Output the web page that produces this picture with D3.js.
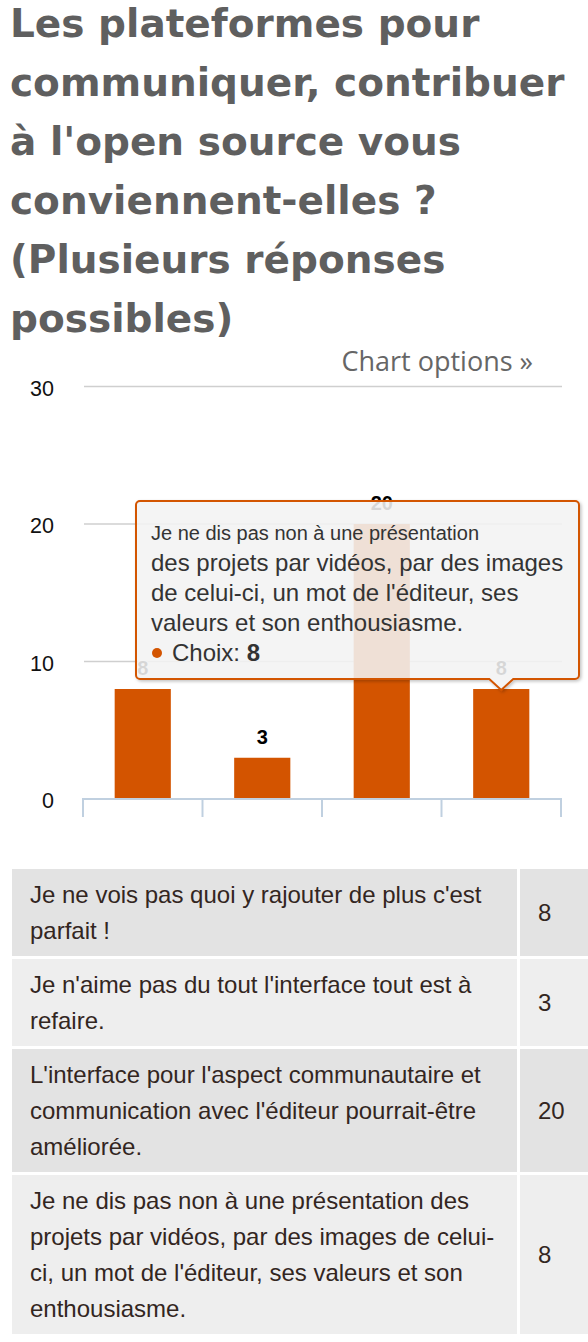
<!DOCTYPE html>
<html>
<head>
<meta charset="utf-8">
<script src="https://cdn.jsdelivr.net/npm/d3@7"></script>
<style>
  html, body { margin: 0; padding: 0; background: #fff; width: 588px; height: 1342px; overflow: hidden; }
  #title { position: absolute; left: 10px; top: -6px; width: 575px; margin: 0;
    font-family: "DejaVu Sans", sans-serif; font-weight: bold; font-size: 39px; line-height: 59px; color: #5f5f5f; }
  #chart { position: absolute; left: 0; top: 0; }
  #tbl { position: absolute; left: 9px; top: 866px; border-collapse: separate; border-spacing: 3px;
    table-layout: fixed; width: 588px;
    font-family: "Liberation Sans", Arial, sans-serif; font-size: 24px; line-height: 36px; color: #33261f; }
  #tbl td { padding: 8px 6px 7px 18px; vertical-align: middle; box-sizing: border-box; }
  #tbl col.lab { width: 505px; }
  #tbl col.val { width: 77px; }
  #tbl tr:nth-child(odd) td { background: #e3e3e3; }
  #tbl tr:nth-child(even) td { background: #eeeeee; }
</style>
</head>
<body>
<h1 id="title"></h1>
<svg id="chart" width="588" height="860"></svg>
<table id="tbl"><colgroup><col class="lab"><col class="val"></colgroup><tbody></tbody></table>
<script>
const titleText = "Les plateformes pour communiquer, contribuer à l'open source vous conviennent-elles ? (Plusieurs réponses possibles)";
const categories = [
  "Je ne vois pas quoi y rajouter de plus c'est parfait !",
  "Je n'aime pas du tout l'interface tout est à refaire.",
  "L'interface pour l'aspect communautaire et communication avec l'éditeur pourrait-être améliorée.",
  "Je ne dis pas non à une présentation des projets par vidéos, par des images de celui-ci, un mot de l'éditeur, ses valeurs et son enthousiasme."
];
const values = [8, 3, 20, 8];
const yTicks = [0, 10, 20, 30];
const seriesName = "Choix";
const hoveredIndex = 3;
const tooltipHeader = "Je ne dis pas non à une présentation";
const tooltipBody = ["des projets par vidéos, par des images", "de celui-ci, un mot de l'éditeur, ses", "valeurs et son enthousiasme."];
const optionsLabel = "Chart options »";

const orange = "#d35400";
d3.select("#title").text(titleText);

const svg = d3.select("#chart");
const font = "'Liberation Sans', Arial, sans-serif";

const x = d3.scaleBand().domain(categories).range([83, 561]).paddingInner(0).paddingOuter(0);
const y = d3.scaleLinear().domain([0, 30]).range([799, 386.5]);
const barFrac = 0.47;

svg.append("text").attr("x", 533).attr("y", 371).attr("text-anchor", "end")
  .attr("font-family", "'Open Sans', sans-serif").attr("font-size", 27).attr("fill", "#666")
  .text(optionsLabel);

// gridlines
svg.append("g").selectAll("line").data(yTicks.filter(d => d > 0)).join("line")
  .attr("x1", 84).attr("x2", 562).attr("y1", d => y(d)).attr("y2", d => y(d))
  .attr("stroke", "#cfcfcf").attr("stroke-width", 1.5);

// y labels
svg.append("g").selectAll("text").data(yTicks).join("text")
  .attr("x", 54).attr("y", d => y(d) + 9).attr("text-anchor", "end")
  .attr("font-family", font).attr("font-size", 21.5).attr("fill", "#111")
  .text(d => d);

// bars
svg.append("g").selectAll("rect").data(values).join("rect")
  .attr("x", (d, i) => x(categories[i]) + x.bandwidth() * (1 - barFrac) / 2)
  .attr("width", x.bandwidth() * barFrac)
  .attr("y", d => y(d)).attr("height", d => y(0) - y(d))
  .attr("fill", orange);

// data labels
svg.append("g").selectAll("text").data(values).join("text")
  .attr("x", (d, i) => x(categories[i]) + x.bandwidth() / 2)
  .attr("y", d => y(d) - 14).attr("text-anchor", "middle")
  .attr("font-family", font).attr("font-size", 20).attr("font-weight", "bold")
  .attr("fill", "#000").attr("stroke", "#fff").attr("stroke-width", 2).attr("paint-order", "stroke")
  .text(d => d);

// x axis
const ax = svg.append("g");
ax.append("line").attr("x1", 82).attr("x2", 562).attr("y1", 799).attr("y2", 799)
  .attr("stroke", "#c0d0e0").attr("stroke-width", 2);
const tickPos = categories.map(c => x(c)).concat([x(categories[categories.length - 1]) + x.bandwidth()]);
ax.selectAll("line.t").data(tickPos).join("line").attr("class", "t")
  .attr("x1", d => d).attr("x2", d => d).attr("y1", 799).attr("y2", 817)
  .attr("stroke", "#c0d0e0").attr("stroke-width", 2);

// tooltip
const defs = svg.append("defs");
const f = defs.append("filter").attr("id", "sh").attr("x", "-10%").attr("y", "-10%").attr("width", "130%").attr("height", "130%");
f.append("feDropShadow").attr("dx", 1.5).attr("dy", 1.5).attr("stdDeviation", 1.5).attr("flood-color", "#000").attr("flood-opacity", 0.25);

const tipX = x(categories[hoveredIndex]) + x.bandwidth() / 2;
const tipY = y(values[hoveredIndex]) + 1;
const bx0 = 136, bx1 = 579, by0 = 501, by1 = 679, r = 4;
const p = d3.path();
p.moveTo(bx0 + r, by0);
p.lineTo(bx1 - r, by0);
p.arcTo(bx1, by0, bx1, by0 + r, r);
p.lineTo(bx1, by1 - r);
p.arcTo(bx1, by1, bx1 - r, by1, r);
p.lineTo(tipX + 12, by1);
p.lineTo(tipX, tipY);
p.lineTo(tipX - 12, by1);
p.lineTo(bx0 + r, by1);
p.arcTo(bx0, by1, bx0, by1 - r, r);
p.lineTo(bx0, by0 + r);
p.arcTo(bx0, by0, bx0 + r, by0, r);
p.closePath();
svg.append("path").attr("d", p.toString())
  .attr("fill", "rgba(247,247,247,0.85)").attr("stroke", orange).attr("stroke-width", 2)
  .attr("filter", "url(#sh)");

const tt = svg.append("g").attr("font-family", font).attr("fill", "#333");
tt.append("text").attr("x", 151).attr("y", 540).attr("font-size", 20).text(tooltipHeader);
tt.selectAll("text.b").data(tooltipBody).join("text").attr("class", "b")
  .attr("x", 151).attr("y", (d, i) => 571 + i * 30).attr("font-size", 24).text(d => d);
tt.append("circle").attr("cx", 157).attr("cy", 653).attr("r", 5).attr("fill", orange);
const last = tt.append("text").attr("x", 172).attr("y", 661).attr("font-size", 24);
last.append("tspan").text(seriesName + ": ");
last.append("tspan").attr("font-weight", "bold").text(values[hoveredIndex]);

// table
const rows = d3.select("#tbl tbody").selectAll("tr").data(categories.map((c, i) => ({ c, v: values[i] }))).join("tr");
rows.append("td").attr("class", "lab").text(d => d.c);
rows.append("td").attr("class", "val").text(d => d.v);
</script>
</body>
</html>
